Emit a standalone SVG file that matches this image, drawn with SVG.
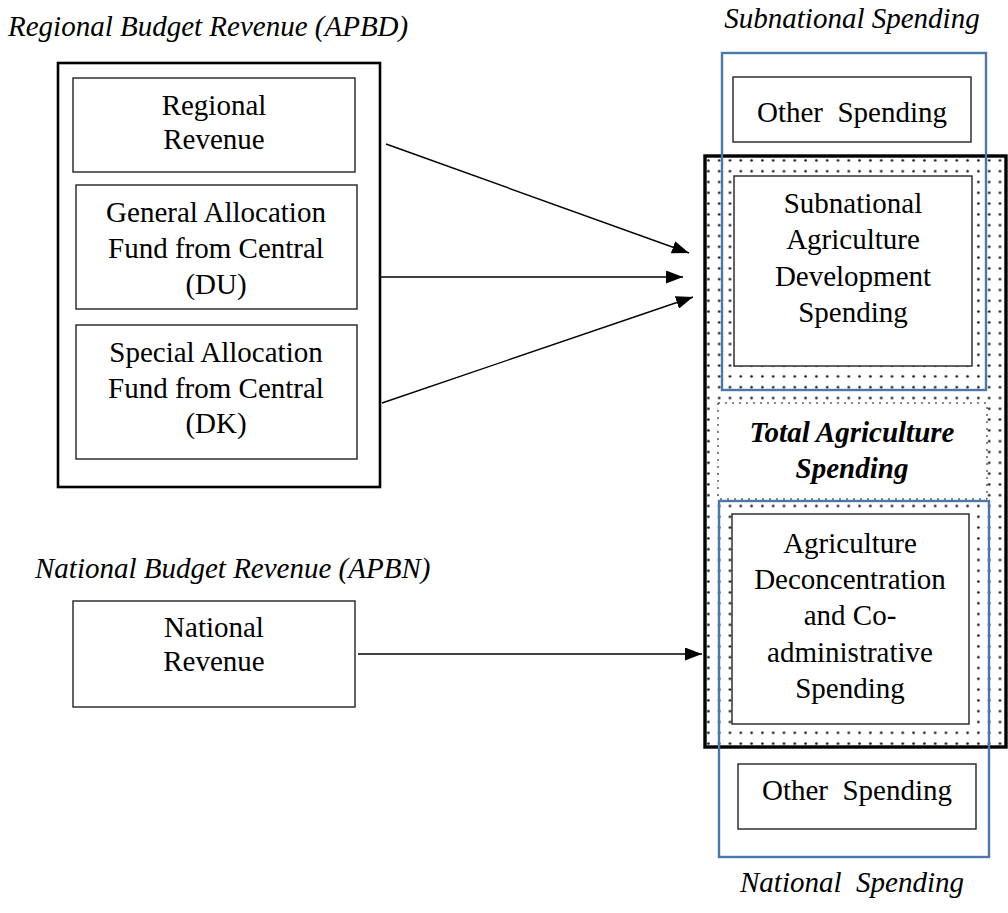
<svg xmlns="http://www.w3.org/2000/svg" width="1008" height="913" viewBox="0 0 1008 913">
  <style>
    text { font-family: "Liberation Serif", "Times New Roman", serif; font-size: 29px; fill: #000; text-anchor: middle; white-space: pre; }
    .title { font-style: italic; text-anchor: start; }
    .ititle { font-style: italic; }
    .bold-it { font-style: italic; font-weight: bold; }
    .box { fill: #fff; stroke: #222; stroke-width: 1.4; }
    .frame { fill: #fff; stroke: #000; stroke-width: 2.6; }
    .group-blue { fill: none; stroke: #4a78a8; stroke-width: 2.4; }
    .conn { stroke: #000; stroke-width: 1.4; fill: none; marker-end: url(#arrow); }
  </style>
  <defs>
    <pattern id="dots" x="703" y="155" width="10.8" height="10.8" patternUnits="userSpaceOnUse">
      <circle cx="5.4" cy="5.4" r="1.3" fill="#111"/>
    </pattern>
    <marker id="arrow" markerWidth="18" markerHeight="13" refX="17" refY="6.5" orient="auto" markerUnits="userSpaceOnUse">
      <path d="M0,0 L17,6.5 L0,13 z" fill="#000"/>
    </marker>
  </defs>

  <rect width="1008" height="913" fill="#fff"/>

  <!-- section captions -->
  <text class="title" x="8" y="36">Regional Budget Revenue (APBD)</text>
  <text class="title" x="35" y="578">National Budget Revenue (APBN)</text>
  <text class="ititle" x="852" y="28">Subnational Spending</text>
  <text class="ititle" x="852" y="892">National  Spending</text>

  <!-- regional revenue sources -->
  <g id="apbd">
    <rect class="frame" x="58" y="63" width="322" height="424"/>
  </g>
  <g id="regional-revenue">
    <rect class="box" x="73" y="78" width="282" height="94"/>
    <text x="214" y="115">Regional</text>
    <text x="214" y="149">Revenue</text>
  </g>
  <g id="general-allocation">
    <rect class="box" x="76" y="185" width="281" height="124"/>
    <text x="216" y="222">General Allocation</text>
    <text x="216" y="258">Fund from Central</text>
    <text x="216" y="294">(DU)</text>
  </g>
  <g id="special-allocation">
    <rect class="box" x="76" y="325" width="281" height="134"/>
    <text x="216" y="362">Special Allocation</text>
    <text x="216" y="398">Fund from Central</text>
    <text x="216" y="433">(DK)</text>
  </g>

  <!-- national revenue source -->
  <g id="national-revenue">
    <rect class="box" x="73" y="601" width="282" height="106"/>
    <text x="214" y="637">National</text>
    <text x="214" y="671">Revenue</text>
  </g>

  <!-- total agriculture spending block -->
  <g id="total-agriculture">
    <rect x="705" y="156" width="301" height="591" fill="url(#dots)" stroke="#000" stroke-width="3.4"/>
    <rect x="718" y="403" width="269" height="96" fill="#fff" stroke="#111" stroke-width="1" stroke-dasharray="2 5"/>
    <text class="bold-it" x="852" y="442">Total Agriculture</text>
    <text class="bold-it" x="852" y="478">Spending</text>
  </g>

  <g id="other-spending-top">
    <rect class="box" x="733" y="77" width="238" height="65"/>
    <text x="852" y="122">Other  Spending</text>
  </g>
  <g id="subnational-agri">
    <rect class="box" x="734" y="176" width="238" height="190"/>
    <text x="853" y="213">Subnational</text>
    <text x="853" y="249">Agriculture</text>
    <text x="853" y="286">Development</text>
    <text x="853" y="322">Spending</text>
  </g>
  <g id="deconcentration">
    <rect class="box" x="732" y="514" width="237" height="210"/>
    <text x="850" y="553">Agriculture</text>
    <text x="850" y="589">Deconcentration</text>
    <text x="850" y="625">and Co-</text>
    <text x="850" y="662">administrative</text>
    <text x="850" y="698">Spending</text>
  </g>
  <g id="other-spending-bottom">
    <rect class="box" x="738" y="764" width="238" height="65"/>
    <text x="857" y="800">Other  Spending</text>
  </g>

  <!-- spending level outlines -->
  <g id="subnational-spending">
    <rect class="group-blue" x="722" y="53" width="264" height="337"/>
  </g>
  <g id="national-spending">
    <rect class="group-blue" x="719" y="501" width="270" height="356"/>
  </g>

  <!-- flows -->
  <g id="connectors">
    <line class="conn" x1="386" y1="144" x2="689" y2="253"/>
    <line class="conn" x1="380" y1="277" x2="683" y2="277"/>
    <line class="conn" x1="382" y1="403" x2="693" y2="297"/>
    <line class="conn" x1="358" y1="654" x2="702" y2="654"/>
  </g>
</svg>
